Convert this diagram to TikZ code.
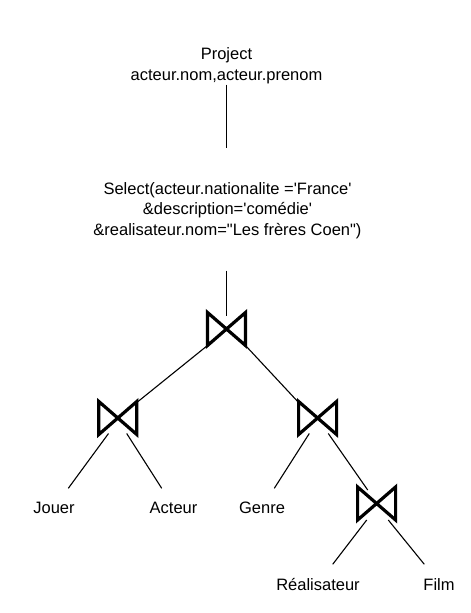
\documentclass[tikz,border=0pt]{standalone}
\usepackage{fontspec}
\setmainfont{Liberation Sans}
\begin{document}
\begin{tikzpicture}[x=1pt,y=-1pt,
  lbl/.style={font=\fontsize{16.5}{20.3}\selectfont, inner sep=0pt, align=center, anchor=base},
  edge/.style={line width=1.1pt},
  pics/bowtie/.style={code={\draw[line width=3.2pt, line join=miter, miter limit=10]
     (-19,-16.5) -- (-19,16.5) -- (19,-16.5) -- (19,16.5) -- cycle;}}]
\useasboundingbox (0,0) rectangle (471,613);
% texts (base anchor = baseline of the last line)
\node[lbl] (proj) at (226.5,80) {Project\\acteur.nom,acteur.prenom};
\node[lbl] (sel) at (227.5,235) {Select(acteur.nationalite =\textquotesingle France\textquotesingle\\\&description=\textquotesingle comédie\textquotesingle\\\&realisateur.nom=\textquotedbl Les frères Coen\textquotedbl)};
\node[lbl] (jouer) at (54,513.5) {Jouer};
\node[lbl] (acteur) at (173.5,513.5) {Acteur};
\node[lbl] (genre) at (262,513.5) {Genre};
\node[lbl] (real) at (318,590) {Réalisateur};
\node[lbl] (film) at (439,590) {Film};
% joins
\coordinate (j0) at (226.5,329);
\coordinate (j1) at (117.8,418);
\coordinate (j2) at (317.6,418);
\coordinate (j3) at (376.6,503.5);
\pic at (j0) {bowtie};
\pic at (j1) {bowtie};
\pic at (j2) {bowtie};
\pic at (j3) {bowtie};
% connector ends
\coordinate (p1) at (226.7,84.5);
\coordinate (p2) at (226.7,147.5);
\coordinate (s1) at (226.7,270.5);
\coordinate (s2) at (226.7,316);
\coordinate (j0l) at (207.5,345.5);
\coordinate (j0r) at (245.5,345.5);
\coordinate (j1t) at (136.8,402.5);
\coordinate (j2t) at (298.6,402.5);
\coordinate (j1a) at (108.5,433.5);
\coordinate (j1b) at (126.7,433.5);
\coordinate (j2a) at (309.3,433.5);
\coordinate (j2b) at (328.3,433.5);
\coordinate (j3t) at (367.7,490);
\coordinate (j3a) at (366.7,520);
\coordinate (j3b) at (388.3,520);
\coordinate (jouert) at (68.3,488.3);
\coordinate (acteurt) at (161.7,488.3);
\coordinate (genret) at (274.3,488.3);
\coordinate (realt) at (332.7,564.3);
\coordinate (filmt) at (424.3,564.3);
% connectors
\draw[edge] (p1) -- (p2);
\draw[edge] (s1) -- (s2);
\draw[edge] (j0l) -- (j1t);
\draw[edge] (j0r) -- (j2t);
\draw[edge] (j1a) -- (jouert);
\draw[edge] (j1b) -- (acteurt);
\draw[edge] (j2a) -- (genret);
\draw[edge] (j2b) -- (j3t);
\draw[edge] (j3a) -- (realt);
\draw[edge] (j3b) -- (filmt);
\end{tikzpicture}
\end{document}
